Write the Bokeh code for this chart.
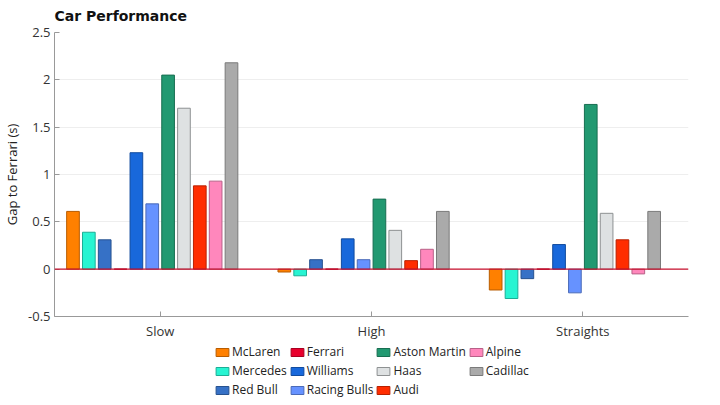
import numpy as np
from bokeh.plotting import figure
from bokeh.layouts import column
from bokeh.models import ColumnDataSource, FactorRange, Range1d, FixedTicker, Span, Legend, LegendItem
from bokeh.transform import dodge
from bokeh.embed import file_html
from bokeh.resources import INLINE

categories = ["Slow", "High", "Straights"]
teams = ["McLaren", "Mercedes", "Red Bull", "Ferrari", "Williams", "Racing Bulls",
         "Aston Martin", "Haas", "Audi", "Alpine", "Cadillac"]
colors = ["#FF8000", "#27F4D2", "#3671C6", "#E8002D", "#1868DB", "#6692FF",
          "#229971", "#DEE1E2", "#FF2D00", "#FF87BC", "#AAAAAA"]
outlines = ["#B85C00", "#1BAE96", "#27528F", "#A80020", "#114B9E", "#4A6AB8",
            "#186E51", "#8E9192", "#B82000", "#B86188", "#7A7A7A"]

mclaren = [0.61, -0.03, -0.22]
mercedes = [0.39, -0.07, -0.31]
red_bull = [0.31, 0.10, -0.10]
ferrari = [0.0, 0.0, 0.0]
williams = [1.23, 0.32, 0.26]
racing_bulls = [0.69, 0.10, -0.25]
aston_martin = [2.05, 0.74, 1.74]
haas = [1.70, 0.41, 0.59]
audi = [0.88, 0.09, 0.31]
alpine = [0.93, 0.21, -0.05]
cadillac = [2.18, 0.61, 0.61]

series = [mclaren, mercedes, red_bull, ferrari, williams, racing_bulls,
          aston_martin, haas, audi, alpine, cadillac]

y_ticks = [-0.5, 0, 0.5, 1, 1.5, 2, 2.5]
y_tick_labels = ["-0.5", "0", "0.5", "1", "1.5", "2", "2.5"]

data = {"cat": categories}
for i, s in enumerate(series):
    data[f"t{i}"] = s
source = ColumnDataSource(data)

p = figure(x_range=FactorRange(*categories), y_range=Range1d(-0.5, 2.5),
           frame_width=634, frame_height=284, output_backend="svg",
           toolbar_location=None, min_border_left=54, min_border_right=16,
           min_border_top=31, min_border_bottom=24)

p.title.text = "Car Performance"
p.title.text_font = "DejaVu Sans"
p.title.text_font_size = "14px"
p.title.text_font_style = "bold"
p.title.text_color = "#111111"
p.title.vertical_align = "top"
p.title.standoff = 14

renderers = []
for i, t in enumerate(teams):
    off = -0.4125 + i * 0.075
    r = p.vbar(x=dodge("cat", off, range=p.x_range), top=f"t{i}", bottom=0,
               width=0.06, source=source, fill_color=colors[i],
               line_color=outlines[i], line_width=1)
    renderers.append(r)

p.add_layout(Span(location=0, dimension="width", line_color="#C8102E", line_width=1.2))

p.yaxis.ticker = FixedTicker(ticks=y_ticks)
p.yaxis.major_label_overrides = {t: l for t, l in zip(y_ticks, y_tick_labels)}
p.yaxis.axis_label = "Gap to Ferrari (s)"
p.yaxis.axis_label_text_font = "Open Sans"
p.yaxis.axis_label_text_font_size = "13px"
p.yaxis.axis_label_text_font_style = "normal"
p.yaxis.axis_label_text_color = "#222222"
p.yaxis.axis_label_standoff = 4
p.yaxis.major_label_standoff = 4

for ax in (p.xaxis, p.yaxis):
    ax.axis_line_color = "#999999"
    ax.major_tick_line_color = "#999999"
    ax.major_tick_in = 5
    ax.major_tick_out = 0
    ax.minor_tick_line_color = None
    ax.major_label_text_font = "Open Sans"
    ax.major_label_text_font_size = "13px"
    ax.major_label_text_color = "#333333"

p.xgrid.grid_line_color = None
p.ygrid.grid_line_color = "#EEEEEE"
p.outline_line_color = None

# legend panel (separate figure below the chart); legend stubs hold no data
lg = figure(width=704, height=56, output_backend="svg", toolbar_location=None,
            min_border=0, x_range=Range1d(0, 1), y_range=Range1d(0, 1),
            x_axis_location=None, y_axis_location=None)
lg.grid.visible = False
lg.outline_line_color = None
lg_renderers = []
for i, t in enumerate(teams):
    stub = ColumnDataSource({"x": [np.nan], "top": [np.nan]})
    r = lg.vbar(x="x", top="top", width=0.1, source=stub,
                fill_color=colors[i], line_color=outlines[i])
    lg_renderers.append(r)

order = [0, 3, 6, 9, 1, 4, 7, 10, 2, 5, 8]
items = [LegendItem(label=teams[i], renderers=[lg_renderers[i]]) for i in order]
legend = Legend(items=items, orientation="horizontal", ncols=4, location=(160, 0),
                glyph_width=16, glyph_height=10, label_height=14, spacing=2,
                padding=0, margin=0, label_standoff=2,
                label_text_font="Open Sans", label_text_font_size="12px",
                label_text_color="#222222", border_line_color=None,
                background_fill_alpha=0)
lg.add_layout(legend, "center")

layout = column(p, lg, spacing=0)
open("out.html", "w").write(file_html(layout, INLINE))
